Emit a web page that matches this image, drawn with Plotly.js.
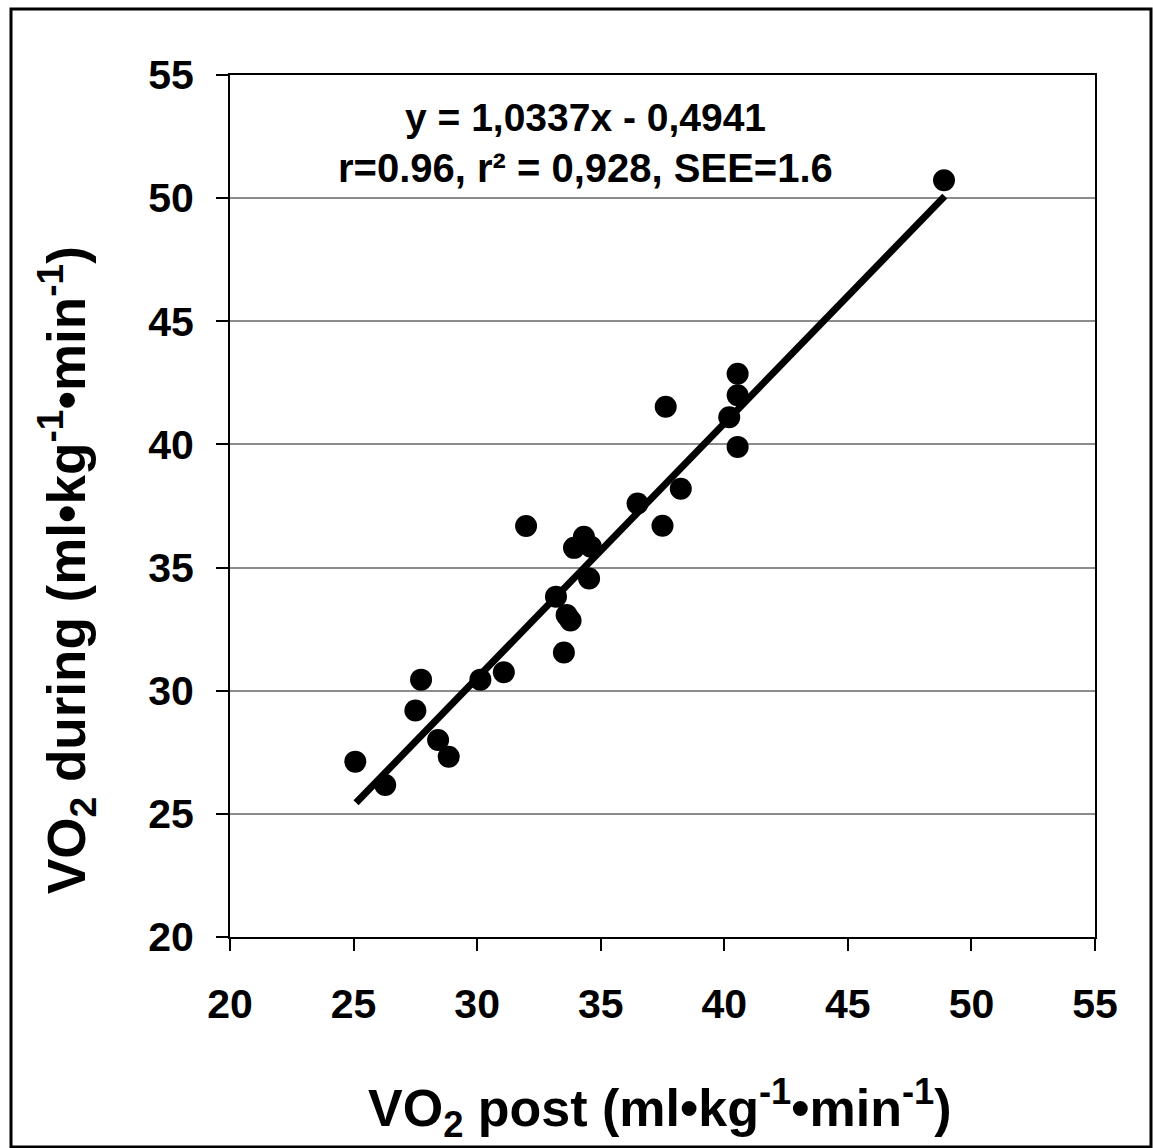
<!DOCTYPE html>
<html>
<head>
<meta charset="utf-8">
<script src="https://cdn.plot.ly/plotly-3.0.1.min.js"></script>
<style>html,body{margin:0;padding:0;background:#fff;}#chart{width:1153px;height:1148px;}</style>
</head>
<body>
<div id="chart"></div>
<script>
// VO2 post (x) vs VO2 during (y), ml·kg-1·min-1
const vo2Post = [25.07, 26.28, 27.50, 27.73, 28.42, 28.85, 30.13, 31.08, 31.98, 33.19, 33.62, 33.78, 33.51,
  33.92, 34.32, 34.60, 34.53, 36.49, 37.50, 37.63, 38.24, 40.20, 40.54, 40.54, 40.54, 48.89];
const vo2During = [27.12, 26.17, 29.20, 30.45, 28.00, 27.32, 30.45, 30.75, 36.69, 33.82, 33.07, 32.85, 31.55,
  35.80, 36.25, 35.85, 34.56, 37.60, 36.70, 41.53, 38.20, 41.10, 42.00, 42.87, 39.90, 50.73];
// regression line end points (y = 1,0337x - 0,4941)
const fitX = [25.10, 48.92];
const fitY = [25.45, 50.08];
const tickVals = [20, 25, 30, 35, 40, 45, 50, 55];
const eqLine1 = "y = 1,0337x - 0,4941";
const eqLine2 = "r=0.96, r² = 0,928, SEE=1.6";
const xTitle = "VO<sub>2</sub> post (ml•kg<sup>-1</sup>•min<sup>-1</sup>)";
const yTitle = "VO<sub>2</sub> during (ml•kg<sup>-1</sup>•min<sup>-1</sup>)";

const FONT = "Liberation Sans, Arial, sans-serif";

const traces = [
  {
    x: fitX, y: fitY, type: 'scatter', mode: 'lines',
    line: {color: '#000', width: 7}, hoverinfo: 'skip', showlegend: false
  },
  {
    x: vo2Post, y: vo2During, type: 'scatter', mode: 'markers',
    marker: {color: '#000', size: 22, symbol: 'circle', line: {width: 0}},
    showlegend: false
  }
];

const L = 230, R = 1095, T = 75, B = 937, W = 1153, H = 1148;
const pw = R - L, ph = B - T;
function px(xp) { return (xp - L) / pw; }
function py(yp) { return (B - yp) / ph; }

const axisCommon = {
  range: [20, 55], tickvals: tickVals, ticktext: tickVals.map(String),
  showline: true, linecolor: '#000', linewidth: 2, mirror: true,
  ticks: 'outside', ticklen: 12, tickwidth: 2, tickcolor: '#000',
  zeroline: false, fixedrange: true,
  tickfont: {family: FONT, size: 41, color: '#000', weight: 'bold'}
};

const layout = {
  width: W, height: H,
  margin: {l: L, r: W - R, t: T, b: H - B},
  paper_bgcolor: '#fff', plot_bgcolor: '#fff',
  font: {family: FONT, color: '#000'},
  xaxis: Object.assign({}, axisCommon, {
    showgrid: false,
    ticklabelstandoff: 18
  }),
  yaxis: Object.assign({}, axisCommon, {
    showgrid: true, gridcolor: '#8c8c8c', gridwidth: 2,
    ticklabelstandoff: 14
  }),
  annotations: [
    {xref: 'paper', yref: 'paper', x: px(585), y: py(117), text: eqLine1, showarrow: false,
      xanchor: 'center', yanchor: 'middle', font: {family: FONT, size: 39, color: '#000', weight: 'bold'}},
    {xref: 'paper', yref: 'paper', x: px(585), y: py(168), text: eqLine2, showarrow: false,
      xanchor: 'center', yanchor: 'middle', font: {family: FONT, size: 40, color: '#000', weight: 'bold'}},
    {xref: 'paper', yref: 'paper', x: px(660), y: py(1108), text: xTitle, showarrow: false,
      xanchor: 'center', yanchor: 'middle', font: {family: FONT, size: 52, color: '#000', weight: 'bold'}},
    {xref: 'paper', yref: 'paper', x: px(66), y: py(570), text: yTitle, showarrow: false, textangle: -90,
      xanchor: 'center', yanchor: 'middle', font: {family: FONT, size: 53, color: '#000', weight: 'bold'}}
  ],
  shapes: [
    {type: 'rect', xref: 'paper', yref: 'paper', x0: px(11), x1: px(1151), y0: py(1147), y1: py(9),
      line: {color: '#000', width: 3}, fillcolor: 'rgba(0,0,0,0)', layer: 'above'}
  ]
};

Plotly.newPlot('chart', traces, layout, {displayModeBar: false, staticPlot: true});
</script>
</body>
</html>
